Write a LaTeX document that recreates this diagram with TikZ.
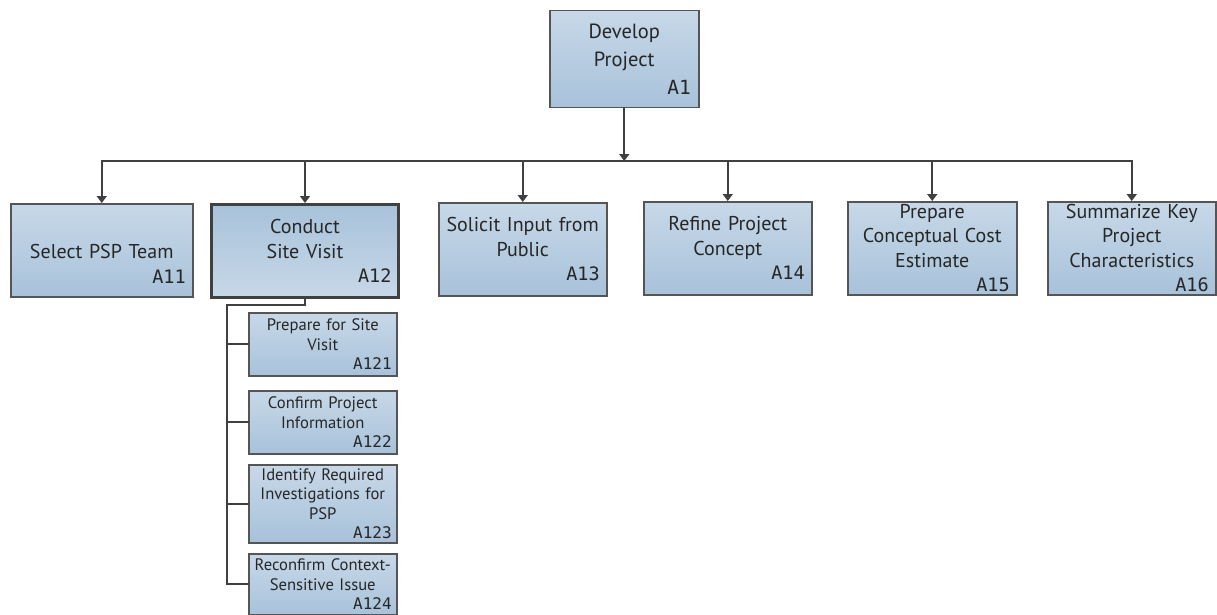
\documentclass[tikz,border=0pt]{standalone}
\usepackage{fontspec}
\setmainfont{PT Sans}
\newfontfamily\idfont{DejaVu Sans Mono}
\usetikzlibrary{arrows.meta}

\definecolor{boxtop}{HTML}{C7D8E8}
\definecolor{boxbot}{HTML}{A8C2DA}
\definecolor{edge}{HTML}{555555}
\definecolor{wirecol}{HTML}{404040}
\definecolor{ink}{HTML}{262626}

% activity number, set flush right on the last line of a box
\newcommand{\mainid}[1]{\makebox[\linewidth][r]{\fontsize{18.5}{24.5}\idfont #1\hspace{7pt}}}
\newcommand{\subid}[1]{\makebox[\linewidth][r]{\fontsize{16}{20}\idfont #1\hspace{5pt}}}

\tikzset{
  procbox/.style={draw=edge, line width=1.5pt, top color=boxtop, bottom color=boxbot,
    anchor=north west, inner xsep=0pt, inner ysep=0pt, align=center, text=ink},
  mainbox/.style={procbox, minimum height=93pt,
    font=\fontsize{20}{24.5}\selectfont},
  subbox/.style={procbox, minimum width=148pt, text width=148pt,
    font=\fontsize{16.6}{19.5}\selectfont},
  focusbox/.style={draw=wirecol, line width=3pt, top color=boxbot, bottom color=boxtop},
  wire/.style={draw=wirecol, line width=2.2pt, line cap=rect},
  feed/.style={wire, -{Triangle[width=10pt,length=7pt]}},
}

\begin{document}
\begin{tikzpicture}[x=1pt, y=-1pt]
\useasboundingbox (0,0) rectangle (1217,615);

% top level
\node[procbox, minimum width=149pt, text width=149pt, minimum height=97pt,
      font=\fontsize{20.5}{28}\selectfont] (a1) at (549,10)
  {Develop\\Project\\\makebox[\linewidth][r]{\fontsize{19.5}{28}\idfont A1\hspace{8pt}}};

% second level
\node[mainbox, minimum width=182pt, text width=182pt] (a11) at (10,203)
  {\strut\\Select PSP Team\\\mainid{A11}};
\node[mainbox, focusbox, minimum width=187pt, text width=187pt] (a12) at (210,203)
  {Conduct\\Site Visit\\\mainid{A12}};
\node[mainbox, minimum width=168pt, text width=168pt] (a13) at (438,202)
  {Solicit Input from\\Public\\\mainid{A13}};
\node[mainbox, minimum width=168pt, text width=168pt] (a14) at (643,201)
  {Refine Project\\Concept\\\mainid{A14}};
\node[mainbox, minimum width=169pt, text width=169pt] (a15) at (847,201)
  {Prepare\\Conceptual Cost\\Estimate\\\mainid{A15}};
\node[mainbox, minimum width=168pt, text width=168pt] (a16) at (1047,201)
  {Summarize Key\\Project\\Characteristics\\\mainid{A16}};

% third level under A12
\node[subbox, minimum height=63pt] (a121) at (248,312)
  {Prepare for Site\\Visit\\\subid{A121}};
\node[subbox, minimum height=63pt] (a122) at (248,390)
  {Confirm Project\\Information\\\subid{A122}};
\node[subbox, minimum height=78pt] (a123) at (248,464)
  {Identify Required\\Investigations for\\PSP\\\subid{A123}};
\node[subbox, minimum height=61pt] (a124) at (248,553)
  {Reconfirm Context-\\Sensitive Issue\\\subid{A124}};

% connectors
\coordinate (bus) at (0,161);
\coordinate (trunk) at (227,305);

\draw[feed] (a1.south) -- (a1.south |- bus);
\draw[wire] (a11.north |- bus) -- (a16.north |- bus);
\foreach \n in {a11,a12,a13,a14,a15,a16}
  \draw[feed] (\n.north |- bus) -- (\n.north);

\draw[wire] (a12.south) |- (trunk) |- (a124.west);
\foreach \n in {a121,a122,a123}
  \draw[wire] (trunk |- \n.west) -- (\n.west);
\end{tikzpicture}
\end{document}
